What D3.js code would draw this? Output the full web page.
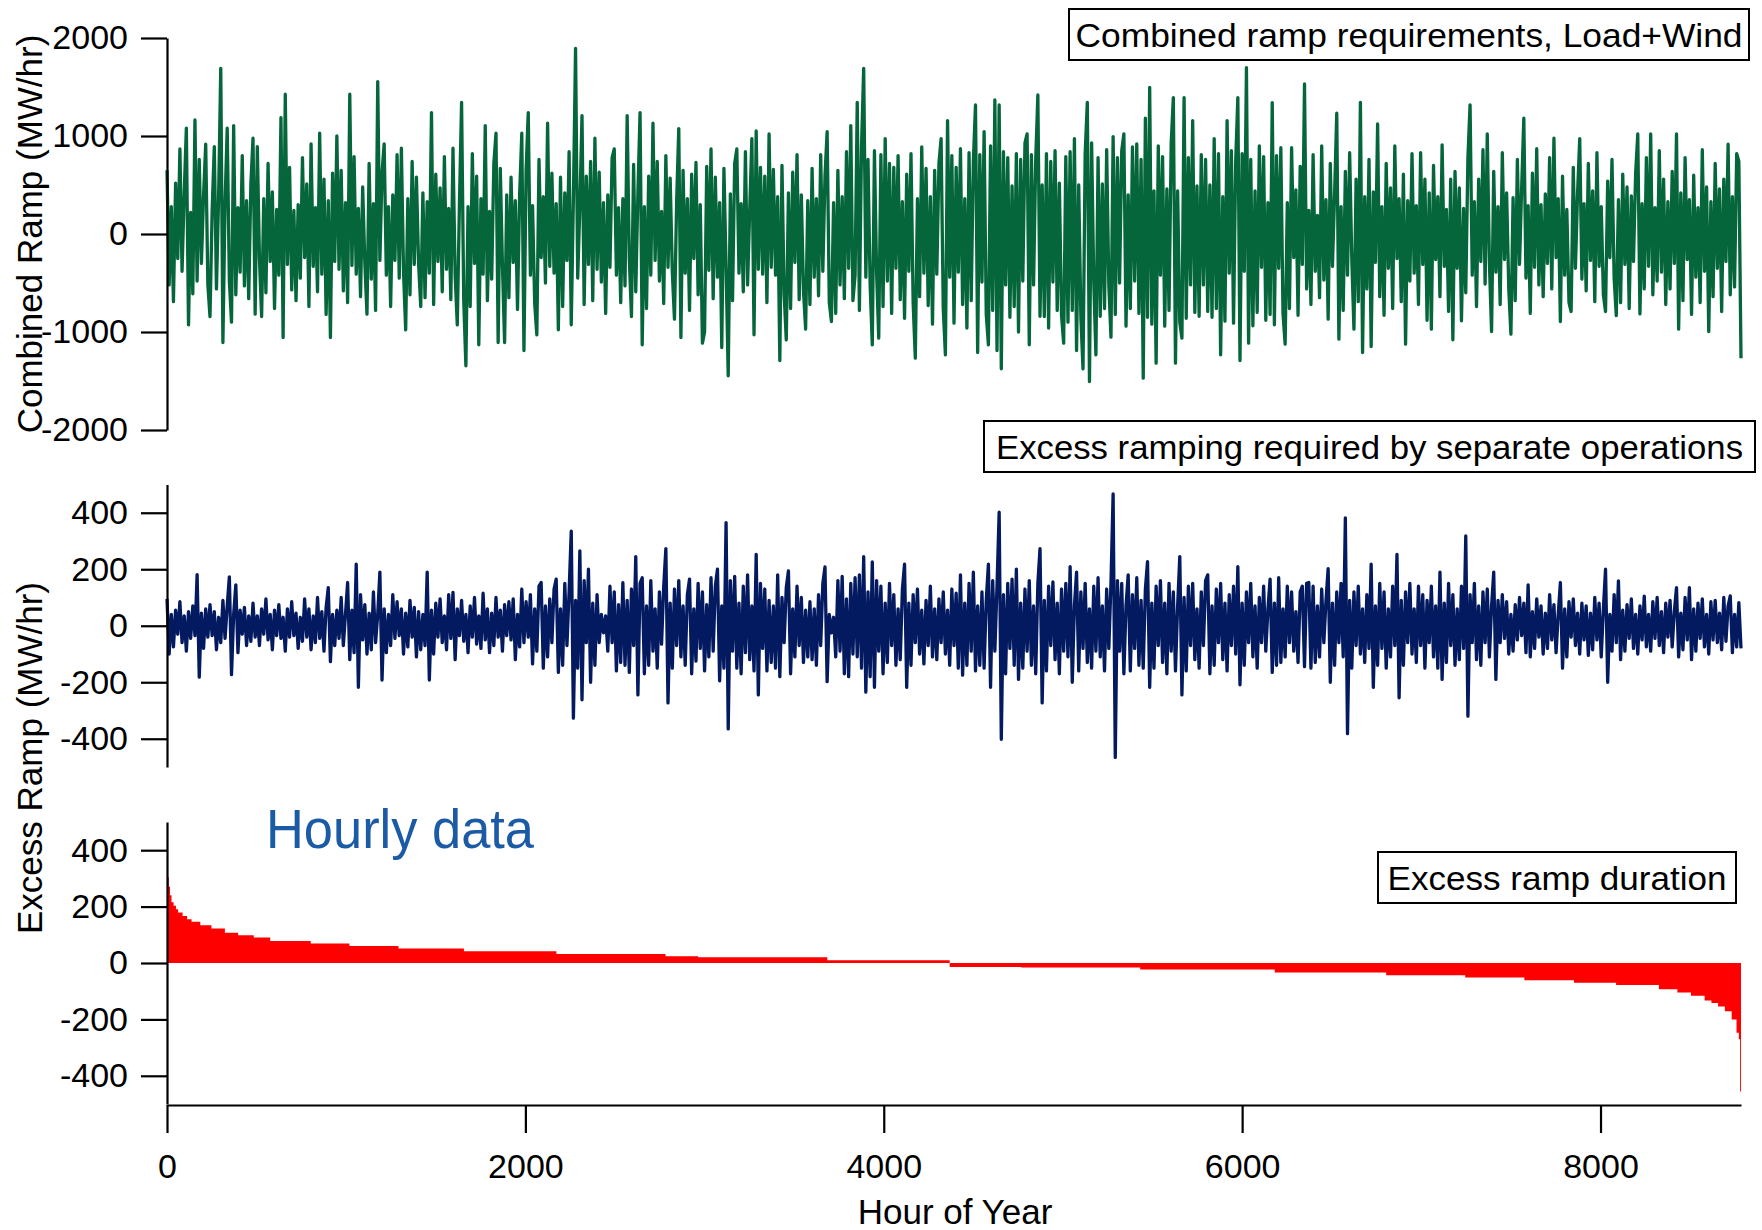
<!DOCTYPE html>
<html>
<head>
<meta charset="utf-8">
<script src="https://d3js.org/d3.v7.min.js"></script>
<style>
	body { margin: 0; background: #fff; }
	svg text { font-family: "Liberation Sans", Arial, sans-serif; fill: #000; }
</style>
</head>
<body>
<script>
// hours in the year shown on the x axis
var hours_total = 8784;

var combined_ticks = [-2000, -1000, 0, 1000, 2000];
var excess_ticks = [-400, -200, 0, 200, 400];
var hour_ticks = [0, 2000, 4000, 6000, 8000];

var legend_texts = ["Combined ramp requirements, Load+Wind",
	"Excess ramping required by separate operations",
	"Excess ramp duration"
];

// combined ramp (MW/hr), every 12 hours
var combined_ramp = [
	650, -520, 280, -690, 520, -250, 868, -380, 410, 1079, -927, 220, -610, 1164, -480, 760, -300, 390, 916, -520,
	-842, 250, 892, -560, 380, 1691, -1107, 320, 1080, -480, -900, 1106, -620, 270, -390, 800, -530, 340, -660, 510,
	977, -818, 892, -250, -842, 360, -600, 720, -280, 430, -760, 250, -420, 1188, -1056, 1426, -310, 680, -570, 240,
	-680, 300, -450, 780, -240, 510, -740, 919, -330, 270, -590, 1028, -410, 560, -820, 340, -1056, 620, -280, 1001,
	-360, 650, -580, 320, -700, 1426, -320, 790, -410, 260, -640, 480, -290, -818, 720, -460, 310, -780, 1555, -270,
	630, 919, -420, 280, -740, 400, -270, 810, -450, 875, -390, -978, 360, -620, 740, -310, 580, -300, -740, 420,
	-650, 330, -400, 1239, -720, 610, -280, 470, -590, 790, -360, 260, -670, 875, -420, -927, 310, 1344, -680, -1345,
	280, -740, 820, -300, 590, -1131, 360, -410, 1106, -680, 230, -460, 720, 1028, -1107, 670, -320, -1107, 400, -650,
	580, -290, 340, -770, 410, 1028, -1189, 650, 1239, -420, 290, -710, -1029, 760, -240, 380, -500, 1130, -330, 620,
	-400, 310, -978, 580, -740, 420, -270, 840, -927, 360, 1895, -450, 280, 1208, -720, 590, -310, 740, -680, 977,
	-360, 630, -490, 320, -810, 400, -340, 780, 868, -420, 270, -700, 360, -530, 1208, -250, -842, 710, -590, 420,
	1239, -1131, 280, -760, 590, -420, 1130, -270, 740, -480, 230, -710, 800, -340, 570, -390, -869, 320, 1076, -1056,
	650, -400, 360, -780, 610, -250, 730, -620, 300, -1114, -1000, 690, -370, 868, -660, 580, -440, 320, -1158, 670,
	-330, -1447, 410, -680, 720, 868, -400, 310, -590, 840, -520, 250, 974, -1029, 1052, -360, 680, -410, 590, -700,
	1021, -340, 660, -420, 380, -1291, 700, -610, -1080, 420, -760, 630, -290, 810, -670, 400, -580, -971, 340, -720,
	670, -440, 360, -630, 810, -380, 590, 1045, -700, -893, 320, -810, 650, -520, 380, -660, 840, -350, 1106, -680,
	-420, 1344, -780, 900, 1691, -440, 760, -520, -1131, 850, -390, -1063, 810, -740, 974, -480, 720, -810, 680, -350,
	800, -670, 330, -860, 610, -380, 820, -700, -1267, 360, -640, 890, -400, 670, -730, 380, -920, 650, -410, 720,
	974, -760, -1233, 1157, -440, 800, -910, 680, -390, 870, -720, 360, -960, 830, -680, 740, 1317, -1209, 810, -490,
	1045, -820, -1131, 900, -780, 1368, -1189, 1317, -1376, 840, -520, 780, -850, 490, -740, 820, -1000, 760, -480, 930,
	1021, -1131, 810, -520, 760, 1419, -840, 500, -842, 820, -960, 740, -490, 850, -780, 520, -830, -1114, 790, -900,
	840, -780, 974, -1189, 500, -850, -1376, 820, 1344, -1505, 930, -490, -1233, 780, -840, 510, -760, 860, -520, -1053,
	994, -820, 780, -500, 850, 1021, -940, 400, -760, 890, -480, 920, -810, 760, -1471, 1181, -850, 1497, -920, 440,
	-1318, 900, -420, 790, -940, 460, -780, 920, 1392, -1318, 440, -900, -1063, 1392, -860, 780, -520, 1157, -800, 490,
	-840, 810, -520, 760, -790, 500, -850, 974, -760, 820, -1233, 380, -890, 1157, -400, 850, -910, 740, 1392, -1291,
	820, -380, 1698, -1114, 760, -937, 440, -800, 900, -340, 790, -880, 320, -820, 1341, -927, 800, -350, 880, -810,
	-1124, 320, -760, 880, -240, 450, -830, 690, -310, 1531, -560, 240, -720, 810, -380, 190, -650, 900, -470, 350,
	-869, 720, -330, 410, 1232, -1073, 280, -780, 640, -420, 830, -260, -971, 560, -690, 1344, -1209, 380, -560, 760,
	-1148, 430, -290, 1123, -640, 280, -830, 720, -350, 470, -760, 900, -250, 360, -690, 610, -1124, 340, -480, 820,
	-400, 290, -720, 830, -310, 560, -880, 420, -971, 700, -260, 380, -640, 910, -330, 250, -790, 560, -1080, 640,
	-350, 470, -886, 260, -600, 780, 1317, -420, 330, -740, 560, -280, 860, -510, 1021, -300, -995, 640, -390, 280,
	-720, 830, -260, 420, -560, -1022, 370, -680, 760, -310, 480, 1181, -450, 290, -810, 620, -340, 870, -520, 300,
	-640, 410, -300, 780, -560, 977, -240, 360, -893, 590, -420, 250, -700, -791, 680, -350, 420, 974, -460, 310,
	-580, 720, -270, 440, -690, 830, -330, 280, -620, -791, 540, -240, 760, -450, -832, 350, -700, 610, -310, 480,
	-760, 390, -280, 620, 1021, -815, 310, -560, 780, -330, 1021, -620, 270, -480, 850, -390, 560, -720, 330, -560,
	640, -300, 1021, -971, 420, -680, 780, -260, 350, -820, 600, -440, 270, -700, 860, -380, 480, -995, 330, -640,
	720, -350, 460, -791, 560, -280, 916, -620, 380, -540, 820, 740, -1267
];

// excess ramp from separate operations (MW/hr), every 12 hours
var excess_ramp = [
	95, -100, 40, -75, 55, -30, 85, -60, 35, -90, 50, -45, 70, -35, 181, -182, 45, -80, 60, -40,
	75, -35, 50, -85, 30, -60, 90, -45, 70, 173, -173, 40, 145, -95, 55, -30, 65, -70, 35, -55,
	80, -40, 35, -70, 60, -30, 95, -50, 40, -85, 55, -35, 75, -45, 30, -90, 60, -40, 85, -35,
	45, -80, 30, -55, 95, -40, 60, -85, 35, -60, 100, -45, 50, -90, 65, 135, -127, 40, -70, 55,
	-45, 100, -70, 40, 153, -120, 55, -95, 218, -218, 110, -50, 75, -100, 45, -85, 120, -60, 40, 190,
	-192, 60, -95, 40, -70, 110, -45, 85, -35, 60, -100, 45, -75, 90, -40, 65, -110, 50, -85, 40,
	-70, 190, -192, 55, -100, 80, -40, 95, -60, 35, -85, 110, -45, 118, -120, 60, -35, 90, -55, 40,
	-95, 70, -40, 100, -65, 35, -80, 115, -50, 60, -95, 45, -70, 100, -40, 55, -90, 75, -35, 85,
	-50, 95, -120, 40, -75, 130, -60, 85, -40, 110, -135, 60, -90, 140, 153, -150, 70, -110, 95, -60,
	130, 165, -165, 60, -140, 150, -70, 120, 335, -327, 90, -150, 265, -262, 160, -60, 200, -200, 80, -140,
	110, -60, 40, -25, 35, -90, 140, -60, 120, -160, 75, -130, 153, -140, 90, -165, 130, -70, 245, -245,
	150, 170, -170, 70, -140, 160, -90, 60, -150, 120, -65, 140, 273, -273, 80, -150, 130, -70, 160, -110,
	70, -140, 110, 165, -170, 60, -125, 150, -80, 120, -160, 75, -110, 170, -90, 140, 200, -195, 70, -150,
	365, -365, 160, -90, 175, -150, 80, -170, 140, -95, 180, -120, 70, -160, 253, -245, 150, -80, 130, -160,
	90, -130, 70, -150, 180, -180, 100, -60, 135, 194, -170, 60, -110, 140, -70, 100, -130, 55, -110, 85,
	-120, 60, -140, 110, -70, 150, 208, -198, 40, -25, 30, -110, 160, -90, 175, -170, 95, -180, 150, -100,
	170, -110, 180, -150, 245, -235, 120, -180, 226, -218, 160, -90, 140, -170, 80, -130, 150, -70, 110, -140,
	60, -120, 130, 218, -218, 80, -140, 110, -60, 130, -100, 55, -135, 90, -70, 140, -110, 60, -120, 95,
	-60, 120, -100, 55, -140, 130, -70, 115, -150, 180, -175, 80, -140, 150, -90, 190, -160, 70, -140, 120,
	-150, 90, 218, -218, 160, -90, 140, 402, -402, 110, -170, 150, -80, 165, -140, 200, -190, 80, -150, 130,
	-90, 160, -140, 70, -170, 150, 273, -273, 90, -160, 140, -70, 155, -120, 80, -170, 130, -90, 150, -110,
	209, -200, 70, 190, -160, 120, -80, 150, -130, 60, -150, 140, -90, 170, -110, 70, -160, 130, -80, 150,
	467, -466, 160, -90, 150, -170, 70, 180, -160, 110, -80, 170, -140, 90, -150, 130, 227, -218, 80, -150,
	140, -70, 160, -130, 80, -170, 150, -90, 120, -160, 70, 245, -245, 100, -160, 140, -70, 150, -120, 60,
	-150, 120, -70, 160, 180, -170, 70, -140, 130, -60, 150, -120, 80, -160, 110, -70, 140, -100, 209, -209,
	80, -140, 120, -60, 150, -110, 70, -150, 100, -60, 140, -90, 60, 165, -165, 80, -140, 170, -130, 60,
	-110, 140, -60, 120, -90, 50, -130, 120, 140, -145, 150, 153, -150, 140, -130, 70, -110, 130, -60, 90,
	202, -200, 80, -140, 120, -60, 150, -110, 382, -382, 90, -150, 120, -70, 140, -100, 60, -130, 110, -80,
	218, -218, 70, -140, 150, -80, 120, -150, 60, -110, 140, -70, 253, -255, 90, -140, 120, -60, 150, -100,
	60, -130, 140, -70, 110, -150, 90, -60, 140, -110, 70, -150, 190, -190, 80, -130, 150, -70, 110, -140,
	60, -120, 140, -80, 318, -320, 110, -60, 150, -120, 70, -140, 120, -60, 130, -110, 70, 190, -190, 90,
	-60, 110, -45, 85, -100, 40, -90, 75, -50, 100, -35, 80, -95, 145, -110, 50, -80, 95, -40, 70,
	-100, 45, -80, 110, -50, 75, -95, 40, 153, -150, 60, -110, 85, -40, 95, -70, 45, -100, 80, -50,
	70, -105, 45, -85, 100, -50, 80, -110, 60, 200, -200, 40, -90, 110, -60, 159, -120, 55, -90, 75,
	-45, 95, -80, 40, -100, 70, -50, 105, -75, 40, -90, 85, -45, 100, -70, 50, -95, 80, -40, 90,
	-75, 50, 135, -110, 45, -85, 100, -50, 135, -120, 60, -90, 80, -45, 95, -75, 40, -100, 85, -50,
	90, -60, 45, -85, 100, -55, 70, 106, -95, 40, -75, 82, -80
];

// excess ramp duration curve: hour where each step starts, and its level
var duration_hours = [0, 2, 5, 10, 17, 25, 37, 50, 62, 87, 112, 137, 186, 248, 323, 397, 484, 576, 802, 1018,
	1292, 1657, 2173, 2782, 2964, 3685, 4368, 4767, 5431, 6182, 6804, 7245, 7575, 7852, 8087, 8326, 8429, 8505,
	8581, 8619, 8656, 8694, 8732, 8759, 8772, 8779, 8784
];
var duration_values = [478, 380, 304, 270, 240, 215, 203, 191, 179, 167, 155, 146, 134, 122, 107, 98, 90, 78, 69, 60,
	51, 42, 32, 24, 20, 10, -14, -16, -23, -34, -43, -51, -61, -70, -78, -93, -105, -116,
	-133, -142, -154, -171, -200, -247, -270, -456, -456
];

w = 1762;
h = 1230;
font_family = '"Liberation Sans", Arial, sans-serif';

var x = d3.scaleLinear().domain([0, hours_total]).range([167, 1741]);
var y_top = d3.scaleLinear().domain([-2000, 2000]).range([430, 38]);
var y_mid = d3.scaleLinear().domain([-500, 500]).range([767, 484.5]);
var y_bot = d3.scaleLinear().domain([-500, 500]).range([1104, 822]);

var svg = d3.select("body")
	.append("svg")
	.attr("width", w)
	.attr("height", h);

draw_series(svg, combined_ramp, y_top, "#04663a");
draw_series(svg, excess_ramp, y_mid, "#031a60");
draw_duration(svg);

draw_y_axis(svg, y_top, combined_ticks);
draw_y_axis(svg, y_mid, excess_ticks);
draw_y_axis(svg, y_bot, excess_ticks);
draw_x_axis(svg);

draw_legend(svg, legend_texts[0], 1069, 9, 680, 51, 667);
draw_legend(svg, legend_texts[1], 984, 421, 771, 51, 747);
draw_legend(svg, legend_texts[2], 1378, 852, 358, 51, 339);

svg.append("text")
	.attr("x", 266)
	.attr("y", 848)
	.attr("font-size", 56)
	.attr("textLength", 268)
	.attr("lengthAdjust", "spacingAndGlyphs")
	.style("fill", "#1b5aa5")
	.text("Hourly data");

svg.append("text")
	.attr("transform", "translate(42,234) rotate(-90)")
	.attr("text-anchor", "middle")
	.attr("font-size", 35)
	.text("Combined Ramp (MW/hr)");

svg.append("text")
	.attr("transform", "translate(42,758) rotate(-90)")
	.attr("text-anchor", "middle")
	.attr("font-size", 35)
	.text("Excess Ramp (MW/hr)");

svg.append("text")
	.attr("x", 955)
	.attr("y", 1224)
	.attr("text-anchor", "middle")
	.attr("font-size", 35)
	.text("Hour of Year");

function draw_series(svg, values, y, color) {
	var step = hours_total / (values.length - 1);
	var line = d3.line()
		.x(function(d, i) { return x(i * step); })
		.y(function(d) { return y(d); });
	svg.append("path")
		.datum(values)
		.attr("d", line)
		.attr("fill", "none")
		.attr("stroke", color)
		.attr("stroke-width", 3.3)
		.attr("stroke-linejoin", "round");
}

function draw_duration(svg) {
	var area = d3.area()
		.curve(d3.curveStepAfter)
		.x(function(d, i) { return x(duration_hours[i]); })
		.y0(y_bot(0))
		.y1(function(d) { return y_bot(d); });
	svg.append("path")
		.datum(duration_values)
		.attr("d", area)
		.attr("fill", "#ff0000");
}

function draw_y_axis(svg, y, ticks) {
	var g = svg.append("g")
		.attr("transform", "translate(167,0)")
		.call(d3.axisLeft(y)
			.tickValues(ticks)
			.tickSize(26)
			.tickSizeOuter(0)
			.tickPadding(13)
			.tickFormat(function(d) { return String(d); }));
	style_axis(g);
}

function draw_x_axis(svg) {
	var g = svg.append("g")
		.attr("transform", "translate(0,1105)")
		.call(d3.axisBottom(x)
			.tickValues(hour_ticks)
			.tickSize(28)
			.tickSizeOuter(0)
			.tickPadding(21)
			.tickFormat(function(d) { return String(d); }));
	style_axis(g);
}

function style_axis(g) {
	g.attr("font-family", font_family).attr("font-size", 34);
	g.select(".domain").attr("stroke", "#000").attr("stroke-width", 2.2);
	g.selectAll(".tick line").attr("stroke", "#000").attr("stroke-width", 2.2);
	g.selectAll(".tick text").style("fill", "#000");
}

function draw_legend(svg, label, lx, ly, lw, lh, text_width) {
	svg.append("rect")
		.attr("x", lx)
		.attr("y", ly)
		.attr("width", lw)
		.attr("height", lh)
		.attr("fill", "#fff")
		.attr("stroke", "#000")
		.attr("stroke-width", 2);
	svg.append("text")
		.attr("x", lx + lw / 2)
		.attr("y", ly + lh / 2 + 12)
		.attr("text-anchor", "middle")
		.attr("font-size", 34)
		.attr("textLength", text_width)
		.attr("lengthAdjust", "spacingAndGlyphs")
		.text(label);
}
</script>
</body>
</html>
